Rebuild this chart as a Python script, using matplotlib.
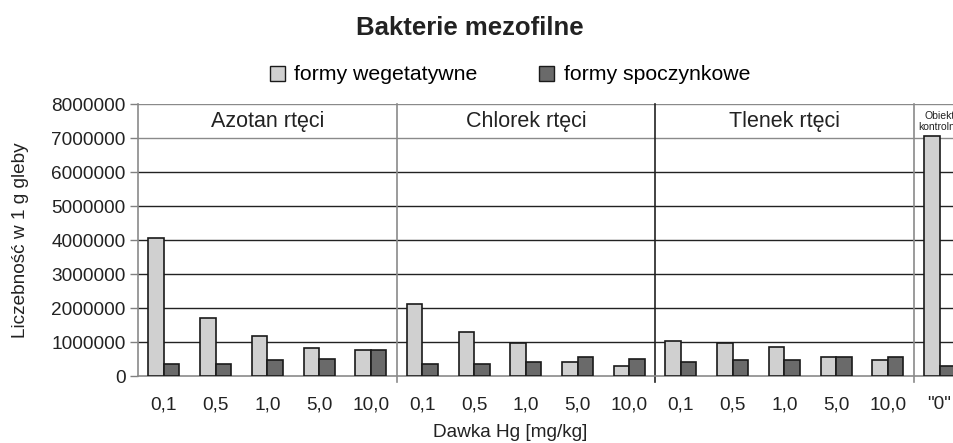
import numpy as np
import matplotlib.pyplot as plt
from matplotlib.patches import Patch

plt.rcParams['font.family'] = ['Liberation Sans', 'DejaVu Sans']

# Data
doses = ['0,1', '0,5', '1,0', '5,0', '10,0',
         '0,1', '0,5', '1,0', '5,0', '10,0',
         '0,1', '0,5', '1,0', '5,0', '10,0', '"0"']
vegetative = [4080000, 1710000, 1190000, 830000, 770000,
              2120000, 1290000, 980000, 420000, 300000,
              1040000, 980000, 870000, 570000, 470000, 7080000]
resting = [360000, 360000, 470000, 520000, 770000,
           360000, 360000, 420000, 570000, 520000,
           420000, 470000, 470000, 570000, 570000, 310000]
groups = ['Azotan rtęci', 'Chlorek rtęci', 'Tlenek rtęci']
control_label = 'Obiekt\nkontrolny'

light = '#d0d0d0'
dark = '#6a6a6a'
txt = '#222222'

fig = plt.figure(figsize=(9.54, 4.43), dpi=100)
ax = fig.add_axes([0.1447, 0.1506, 0.8553, 0.614])

x = np.arange(len(doses))
w = 0.3
ax.bar(x - w / 2, vegetative, w, color=light, edgecolor='#1a1a1a', linewidth=1.2, zorder=3)
ax.bar(x + w / 2, resting, w, color=dark, edgecolor='#1a1a1a', linewidth=1.2, zorder=3)

ax.set_xlim(-0.5, 15.28)
ax.set_ylim(0, 8000000)
yt = np.arange(0, 8000001, 1000000)
ax.set_yticks(yt)
ax.set_yticklabels([str(v) for v in yt], fontsize=13.7, color=txt)
ax.tick_params(axis='y', length=6, color='#808080', width=1, pad=3)
ax.set_xticks(x)
ax.set_xticklabels(doses, fontsize=13.7, color=txt)
ax.tick_params(axis='x', length=0, pad=14.5)

# horizontal grid lines
for v in yt[1:]:
    c = '#8a8a8a' if v >= 7000000 else '#222222'
    ax.axhline(v, color=c, linewidth=1.0, zorder=1)

# group separators, running a bit below the axis
for i, xs in enumerate([4.5, 9.5, 14.5]):
    c = '#222222' if i == 1 else '#8a8a8a'
    ax.axvline(xs, ymin=-0.02, ymax=1, color=c, linewidth=1.2, clip_on=False, zorder=2)

for s in ['top', 'right']:
    ax.spines[s].set_visible(False)
for s in ['left', 'bottom']:
    ax.spines[s].set_color('#8a8a8a')
    ax.spines[s].set_linewidth(1.2)

# group headers
for i, g in enumerate(groups):
    ax.text(i * 5 + 2, 7500000, g, ha='center', va='center', fontsize=15.5, color=txt)
ax.text(15.0, 7500000, control_label, ha='center', va='center', fontsize=7.5,
        color=txt, linespacing=1.1)

ax.set_ylabel('Liczebność w 1 g gleby', fontsize=13.7, color=txt, labelpad=16)
ax.set_xlabel('Dawka Hg [mg/kg]', fontsize=13.7, color=txt)
ax.xaxis.label.set_va('center')
ax.xaxis.set_label_coords(0.456, -0.205)

fig.text(470 / 954, 1 - 28 / 443, 'Bakterie mezofilne', ha='center', va='center',
         fontsize=18.5, fontweight='bold', color=txt)

handles = [Patch(facecolor=light, edgecolor='#1a1a1a', linewidth=1.0),
           Patch(facecolor=dark, edgecolor='#1a1a1a', linewidth=1.0)]
fig.legend(handles, ['formy wegetatywne', 'formy spoczynkowe'], loc='center',
           bbox_to_anchor=(510 / 954, 1 - 75 / 443), ncol=2, frameon=False,
           fontsize=15.3, handlelength=0.7, handleheight=0.7, handletextpad=0.45,
           columnspacing=2.9, borderpad=0.2)

fig.savefig('out.png', dpi=100)
